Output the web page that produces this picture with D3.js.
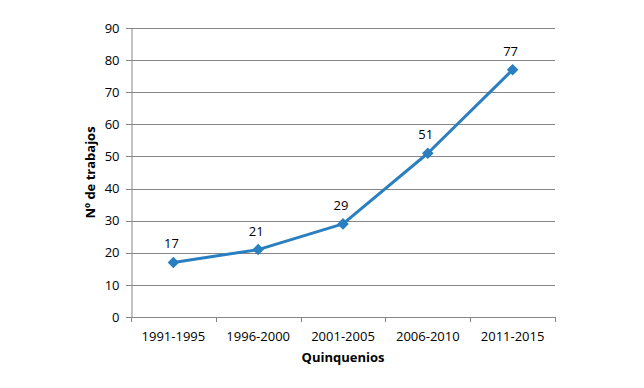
<!DOCTYPE html>
<html>
<head>
<meta charset="utf-8">
<script src="https://cdn.jsdelivr.net/npm/d3@7"></script>
<style>
  body { margin: 0; background: #fff; }
  text { font-family: "Open Sans", "DejaVu Sans", sans-serif; fill: #000; }
</style>
</head>
<body>
<script>
// data
const periods = ["1991-1995", "1996-2000", "2001-2005", "2006-2010", "2011-2015"];
const trabajos = [17, 21, 29, 51, 77];
const yTicks = [0, 10, 20, 30, 40, 50, 60, 70, 80, 90];

const width = 644, height = 388;
const margin = {top: 28, right: 89, bottom: 71, left: 131};

const svg = d3.select("body").append("svg")
    .attr("width", width)
    .attr("height", height);

const x = d3.scaleBand()
    .domain(periods)
    .range([margin.left, width - margin.right]);

const y = d3.scaleLinear()
    .domain([0, 90])
    .range([height - margin.bottom, margin.top]);

// gridlines
svg.append("g")
  .selectAll("line")
  .data(yTicks)
  .join("line")
    .attr("x1", margin.left - 5)
    .attr("x2", width - margin.right)
    .attr("y1", d => Math.round(y(d)) + 0.5)
    .attr("y2", d => Math.round(y(d)) + 0.5)
    .attr("stroke", "#868686");

// y axis
const yAxis = svg.append("g")
    .attr("transform", `translate(${margin.left + 0.5},0)`)
    .call(d3.axisLeft(y).tickValues(yTicks).tickSize(0).tickPadding(12));
yAxis.select(".domain").attr("stroke", "#868686");
yAxis.selectAll("text").attr("font-size", 13).attr("font-family", "Open Sans");

// x axis
const xAxis = svg.append("g")
    .attr("transform", `translate(0,${Math.round(y(0)) + 0.5})`)
    .call(d3.axisBottom(x).tickSize(0).tickPadding(14));
xAxis.select(".domain").remove();
xAxis.selectAll("text").attr("font-size", 13).attr("font-family", "Open Sans");

// category boundary ticks
const bounds = periods.map(p => x(p)).concat([x(periods[periods.length - 1]) + x.bandwidth()]);
svg.append("g")
  .selectAll("line")
  .data(bounds)
  .join("line")
    .attr("x1", d => Math.round(d) + 0.5)
    .attr("x2", d => Math.round(d) + 0.5)
    .attr("y1", Math.round(y(0)))
    .attr("y2", Math.round(y(0)) + 5)
    .attr("stroke", "#868686");

const cx = (d, i) => x(periods[i]) + x.bandwidth() / 2;

// series line
svg.append("path")
    .datum(trabajos)
    .attr("fill", "none")
    .attr("stroke", "#2a7fc1")
    .attr("stroke-width", 3)
    .attr("stroke-linejoin", "round")
    .attr("d", d3.line().x(cx).y(d => y(d)));

// diamond markers
svg.append("g")
  .selectAll("path")
  .data(trabajos)
  .join("path")
    .attr("transform", (d, i) => `translate(${cx(d, i)},${y(d)})`)
    .attr("d", d3.symbol(d3.symbolDiamond2, 85))
    .attr("fill", "#2a7fc1");

// data labels
svg.append("g")
  .selectAll("text")
  .data(trabajos)
  .join("text")
    .attr("x", (d, i) => cx(d, i) - 2)
    .attr("y", d => y(d) - 14)
    .attr("text-anchor", "middle")
    .attr("font-size", 13)
    .text(d => d);

// axis titles
svg.append("text")
    .attr("x", x.range()[0] + (x.range()[1] - x.range()[0]) / 2)
    .attr("y", 362)
    .attr("text-anchor", "middle")
    .attr("font-size", 13)
    .attr("font-weight", "bold")
    .text("Quinquenios");

svg.append("text")
    .attr("transform", `translate(95,${y(45)}) rotate(-90)`)
    .attr("text-anchor", "middle")
    .attr("font-size", 13)
    .attr("font-weight", "bold")
    .text("Nº de trabajos");
</script>
</body>
</html>
